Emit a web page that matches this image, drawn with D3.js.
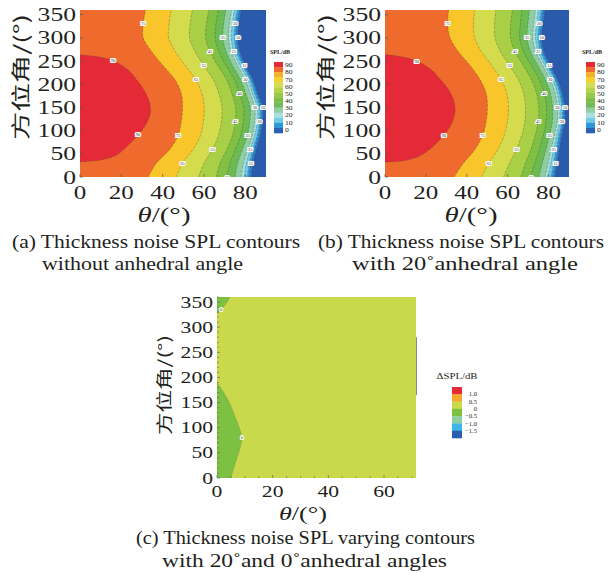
<!DOCTYPE html>
<html><head><meta charset="utf-8">
<script src="https://cdn.jsdelivr.net/npm/d3@7"></script>
<style>body{margin:0;background:#fff}svg{display:block}</style>
</head><body><svg id="c" width="609" height="573"></svg>
<script>
// ---------- DATA ----------
const azimuth = [0,30,60,90,120,150,180,210,240,270,300,330,360];
const splLevels = [10,15,20,25,30,35,40,45,55,65,75];
// panel (a): theta (deg) of each contour level at each azimuth
const a10 = [83.0,83.8,85.4,87.4,88.5,88.5,86.1,83.8,80.3,77.5,76.4,77.0,78.0];
const a15 = [81.9,82.8,84.5,86.5,87.7,87.8,85.4,83.1,79.5,76.7,75.5,76.0,77.1];
const a20 = [81.0,81.9,83.7,85.8,86.9,86.9,84.6,82.3,78.8,75.8,74.7,75.1,76.1];
const a25 = [79.5,80.5,82.4,84.5,85.8,85.8,83.5,81.2,77.5,74.4,73.2,73.7,74.8];
const a30 = [77.9,79.1,81.2,83.4,84.5,84.6,82.4,80.0,76.3,73.2,71.8,72.3,73.4];
const a35 = [75.0,76.3,78.6,81.0,82.2,82.3,80.2,77.7,73.9,70.7,69.1,69.5,70.6];
const a40 = [71.0,72.6,75.3,77.8,79.1,79.2,77.2,74.7,70.7,67.2,65.4,65.8,66.9];
const a45 = [65.9,67.8,71.1,73.8,75.1,75.3,73.5,70.9,66.7,62.9,60.8,61.2,62.3];
const a55 = [57.4,60.0,64.1,67.0,68.4,68.7,67.2,64.5,59.9,55.7,53.0,53.3,54.4];
const a65 = [46.5,49.6,54.8,58.3,59.7,60.1,59.0,56.1,51.0,46.2,42.9,43.1,44.2];
const a75 = [33.0,37.0,43.5,47.5,49.0,49.6,49.0,45.9,40.2,34.7,30.6,30.6,31.7];
const aRedTheta = [0,9.7,17.7,23.3,28.1,32.2,34.1,33.5,31.4,28.1,23.3,16.1,8.1,0];
const aRedAz    = [33,36.6,47.4,69,90.6,115.7,140.9,162.4,184,205.6,230.8,250.2,259.5,263];
// panel (b)
const b10 = [83.2,84.3,85.4,86.7,88.1,88.1,86.9,84.6,81.1,77.9,76.7,77.4,78.3];
const b15 = [82.2,83.4,84.6,85.9,87.3,87.3,86.2,83.8,80.3,77.1,75.8,76.5,77.4];
const b20 = [81.2,82.5,83.7,85.1,86.6,86.6,85.4,83.1,79.5,76.2,74.9,75.5,76.4];
const b25 = [79.7,81.1,82.5,84.0,85.4,85.4,84.3,81.9,78.3,75.0,73.6,74.1,75.0];
const b30 = [78.3,79.7,81.3,82.8,84.2,84.3,83.2,80.8,77.2,73.7,72.2,72.7,73.6];
const b35 = [75.3,77.0,78.8,80.5,81.9,82.0,80.9,78.5,74.8,71.2,69.5,69.9,70.7];
const b40 = [71.3,73.3,75.5,77.4,78.8,79.0,77.9,75.5,71.6,67.8,65.9,66.2,67.0];
const b45 = [66.4,68.7,71.4,73.5,75.0,75.2,74.2,71.6,67.7,63.6,61.4,61.5,62.3];
const b55 = [58.0,60.9,64.3,66.9,68.4,68.7,67.8,65.2,61.0,56.5,53.8,53.6,54.2];
const b65 = [47.1,50.8,55.3,58.3,59.9,60.4,59.6,56.8,52.3,47.2,43.9,43.3,43.8];
const b75 = [33.8,38.4,44.1,47.8,49.5,50.1,49.5,46.5,41.7,35.9,31.8,30.7,31.1];
const bRedTheta = [0,9.5,17.5,24.0,28.8,32.5,34.3,33.6,31.2,27.5,22.5,15.5,8.0,0];
const bRedAz    = [32,35.5,46.5,68,90,115,142,165,187,208,232,250,259,264];
// panel (c): delta SPL, green (-0.5..0) regions
const cLowTheta = [5.0,6.0,7.2,8.3,8.9,8.0,6.6,4.4,2.4,0];
const cLowAz    = [0,20,40,60,80,100,120,150,170,190];
const cTopTheta = [0,1.5,3.0,4.7];
const cTopAz    = [327,335,345,360];
const cEdgeAz   = [165,280];
// ticks / legend labels
const azTicks = [0,50,100,150,200,250,300,350];
const thetaTicksAB = [0,20,40,60,80];
const thetaTicksC = [0,20,40,60];
const splLegendLabels = ["90","80","70","60","50","40","30","20","10","0"];
const dLegendLabels = ["1.0","0.5","0","\u22120.5","\u22121.0","\u22121.5"];

// ---------- STYLE ----------
const serif = "'Liberation Serif','Times New Roman',serif";
const cjk = "'Noto Sans CJK SC',sans-serif";
const ink = "#231f20";
const bandColors = ["#2f7fcc","#37a3dd","#70cae8","#a8dedc","#8ecfa1","#6cba52","#80c043","#a8cf46","#d4dc4e","#f8c62b","#ee6a2d"];
const bgBlue = "#2a5aab", redCol = "#e52a37";
const splLegendColors = ["#e52a37","#ee6a2d","#f6b12b","#f8d02c","#d7dd50","#b6d44a","#99ca46","#7dbf44","#6fba5a","#92d0a2","#aadfdc","#72cbe7","#2f98d7","#2a60b2"];
const dLegendColors = ["#e52a37","#f5a82b","#c9d94b","#7dc142","#8fd0a0","#3db6e7","#2a5fae"];

const svg = d3.select("#c");

function txt(g, s, x, y, size, len, anchor, fam) {
  const t = g.append("text").attr("x",x).attr("y",y).attr("font-size",size)
    .attr("font-family",fam||serif).attr("text-anchor",anchor||"middle").attr("fill",ink).text(s);
  if (len) t.attr("textLength",len).attr("lengthAdjust","spacingAndGlyphs");
  return t;
}

function yTitle(cx, cy, len, size) {
  const g = svg.append("g").attr("transform",`translate(${cx},${cy}) rotate(-90) scale(1,0.8)`);
  g.append("text").attr("x",0).attr("y",size*0.36).attr("font-size",size).attr("font-family",cjk)
    .attr("text-anchor","middle").attr("fill",ink).attr("textLength",len).attr("lengthAdjust","spacingAndGlyphs")
    .text("方位角/(°)");
}
function xTitle(cx, base, size, len) {
  const t = svg.append("text").attr("x",cx).attr("y",base).attr("font-size",size).attr("font-family",serif)
    .attr("text-anchor","middle").attr("fill",ink).attr("textLength",len).attr("lengthAdjust","spacingAndGlyphs");
  t.append("tspan").attr("font-style","italic").text("θ");
  t.append("tspan").text("/(°)");
}

let clipN = 0;
function drawSPL(x0, x1, y0, y1, bounds, redTheta, redAz) {
  const x = d3.scaleLinear().domain([0,90]).range([x0,x1]);
  const y = d3.scaleLinear().domain([0,360]).range([y1,y0]);
  const id = "clip"+(clipN++);
  svg.append("clipPath").attr("id",id).append("rect").attr("x",x0).attr("y",y0).attr("width",x1-x0).attr("height",y1-y0);
  const g = svg.append("g").attr("clip-path",`url(#${id})`);
  g.append("rect").attr("x",x0).attr("y",y0).attr("width",x1-x0).attr("height",y1-y0).attr("fill",bgBlue);
  const area = d3.area().curve(d3.curveCatmullRom).y((d,i)=>y(azimuth[i])).x0(x(0)).x1(d=>x(d));
  const line = d3.line().curve(d3.curveCatmullRom).y((d,i)=>y(azimuth[i])).x(d=>x(d));
  bounds.forEach((b,i)=>{
    g.append("path").attr("d",area(b)).attr("fill",bandColors[i]);
  });
  const pts = redTheta.map((t,i)=>[x(t),y(redAz[i])]);
  const rl = d3.line().curve(d3.curveCatmullRom);
  g.append("path").attr("d",rl(pts)+"Z").attr("fill",redCol);
  // contour lines
  bounds.forEach(b=>{
    g.append("path").attr("d",line(b)).attr("fill","none").attr("stroke","#3a3a3a")
      .attr("stroke-width",0.5).attr("stroke-opacity",0.6).attr("stroke-dasharray","3,1.2");
  });
  g.append("path").attr("d",rl(pts)).attr("fill","none").attr("stroke","#3a3a3a")
      .attr("stroke-width",0.5).attr("stroke-opacity",0.6).attr("stroke-dasharray","3,1.2");
  // contour labels
  const idx = [[5,10],[1,8],[4,11],[2,9],[5,7],[3,10],[0,6],[4,9],[2,8],[1,7],[3,11]];
  bounds.forEach((b,i)=>{
    idx[i].forEach(j=>{
      g.append("text").attr("x",x(b[j])).attr("y",y(azimuth[j])+1.5).attr("font-size",4.5)
        .attr("font-family",serif).attr("text-anchor","middle").attr("fill","#333")
        .attr("stroke","#fff").attr("stroke-width",2.2).attr("paint-order","stroke")
        .text(splLevels[i]);
    });
  });
  [[4,"90"],[11,"90"]].forEach(([j,s])=>{
    svg.append("text").attr("x",x(redTheta[j])).attr("y",y(redAz[j])+1.5).attr("font-size",4.5)
      .attr("font-family",serif).attr("text-anchor","middle").attr("fill","#333")
      .attr("stroke","#fff").attr("stroke-width",2.2).attr("paint-order","stroke").text(s);
  });
  // ticks
  const t = svg.append("g").attr("stroke","#555").attr("stroke-width",0.7);
  azTicks.forEach(v=>t.append("line").attr("x1",x0).attr("x2",x0+3).attr("y1",y(v)).attr("y2",y(v)));
  thetaTicksAB.forEach(v=>t.append("line").attr("x1",x(v)).attr("x2",x(v)).attr("y1",y1).attr("y2",y1-3));
  azTicks.forEach(v=>txt(svg,String(v),x0-4,y(v)+6.5,19,String(v).length*12.8,"end"));
  thetaTicksAB.forEach(v=>txt(svg,String(v),x(v),y1+22,19,String(v).length*12.5,"middle"));
  return {x,y};
}

function splLegend(lx, ty) {
  const g = svg.append("g");
  txt(g,"SPL/dB",lx+6,ty-8,7,20,"middle").attr("font-weight","bold");
  const h = 71/splLegendColors.length;
  splLegendColors.forEach((c,i)=>g.append("rect").attr("x",lx).attr("y",ty+i*h).attr("width",9).attr("height",h+0.3).attr("fill",c));
  splLegendLabels.forEach((s,i)=>txt(g,s,lx+11,ty+3+i*7.15+2.3,6.6,s.length*3.8,"start"));
}

drawSPL(80,266,10,177,[a10,a15,a20,a25,a30,a35,a40,a45,a55,a65,a75],aRedTheta,aRedAz);
drawSPL(385,569,10,177,[b10,b15,b20,b25,b30,b35,b40,b45,b55,b65,b75],bRedTheta,bRedAz);
splLegend(274,62);
splLegend(586,62);
yTitle(21,77,126,24);
yTitle(326,77,126,24);
xTitle(164,222,22,53);
xTitle(471,222,22,53);

// panel (c)
(function(){
  const x0=217,x1=416,y0=297,y1=478;
  const x = d3.scaleLinear().domain([0,71.5]).range([x0,x1]);
  const y = d3.scaleLinear().domain([0,360]).range([y1,y0]);
  svg.append("clipPath").attr("id","clipc").append("rect").attr("x",x0).attr("y",y0).attr("width",x1-x0).attr("height",y1-y0);
  const g = svg.append("g").attr("clip-path","url(#clipc)");
  g.append("rect").attr("x",x0).attr("y",y0).attr("width",x1-x0).attr("height",y1-y0).attr("fill","#c9d94b");
  const rl = d3.line().curve(d3.curveCatmullRom);
  const low = cLowTheta.map((t,i)=>[x(t),y(cLowAz[i])]);
  g.append("path").attr("d",`M${x(0)},${y(0)}L`+rl(low).slice(1)+"Z").attr("fill","#7dc142");
  const top = cTopTheta.map((t,i)=>[x(t),y(cTopAz[i])]);
  g.append("path").attr("d",rl(top)+`L${x(0)},${y(360)}Z`).attr("fill","#7dc142");
  g.append("path").attr("d",rl(low)).attr("fill","none").attr("stroke","#555").attr("stroke-width",0.4).attr("stroke-opacity",0.5);
  g.append("path").attr("d",rl(top)).attr("fill","none").attr("stroke","#555").attr("stroke-width",0.4).attr("stroke-opacity",0.5);
  svg.append("line").attr("x1",x(71.5)+0.5).attr("x2",x(71.5)+0.5).attr("y1",y(cEdgeAz[0])).attr("y2",y(cEdgeAz[1]))
    .attr("stroke","#8a8a7a").attr("stroke-width",1);
  [[4,cLowTheta,cLowAz],[1,cTopTheta,cTopAz]].forEach(([j,T,A])=>{
    svg.append("text").attr("x",x(T[j])).attr("y",y(A[j])+1.5).attr("font-size",4.5).attr("font-family",serif)
      .attr("text-anchor","middle").attr("fill","#333").attr("stroke","#fff").attr("stroke-width",2.2)
      .attr("paint-order","stroke").text("0");
  });
  const t = svg.append("g").attr("stroke","#555").attr("stroke-width",0.6);
  d3.range(0,361,10).forEach(v=>t.append("line").attr("x1",x0).attr("x2",x0+(v%50===0?3:1.8)).attr("y1",y(v)).attr("y2",y(v)));
  d3.range(0,71,5).forEach(v=>t.append("line").attr("x1",x(v)).attr("x2",x(v)).attr("y1",y1).attr("y2",y1-(v%20===0?3:1.8)));
  azTicks.forEach(v=>txt(svg,String(v),x0-4,y(v)+5.5,16,String(v).length*10.8,"end"));
  thetaTicksC.forEach(v=>txt(svg,String(v),x(v),y1+19,16,String(v).length*10.8,"middle"));
  yTitle(164,385,100,20);
  xTitle(303,520,19,48);
  // legend
  const lg = svg.append("g");
  txt(lg,"\u0394SPL/dB",457,379,8.5,41,"middle");
  const h = 51/dLegendColors.length;
  dLegendColors.forEach((c,i)=>lg.append("rect").attr("x",452).attr("y",387+i*h).attr("width",10).attr("height",h+0.3).attr("fill",c));
  dLegendLabels.forEach((s,i)=>txt(lg,s,477,387+(i+1)*h+2.2,6.6,null,"end"));
})();

// captions
txt(svg,"(a) Thickness noise SPL contours",156,248,19,288,"middle");
txt(svg,"without anhedral angle",142.5,270,19,201,"middle");
txt(svg,"(b) Thickness noise SPL contours",461,248,19,286,"middle");
txt(svg,"with 20\u02DAanhedral angle",465,270,19,226,"middle");
txt(svg,"(c) Thickness noise SPL varying contours",305.5,544,19,339,"middle");
txt(svg,"with 20\u02DAand 0\u02DAanhedral angles",304.5,567,19,285,"middle");
</script></body></html>
